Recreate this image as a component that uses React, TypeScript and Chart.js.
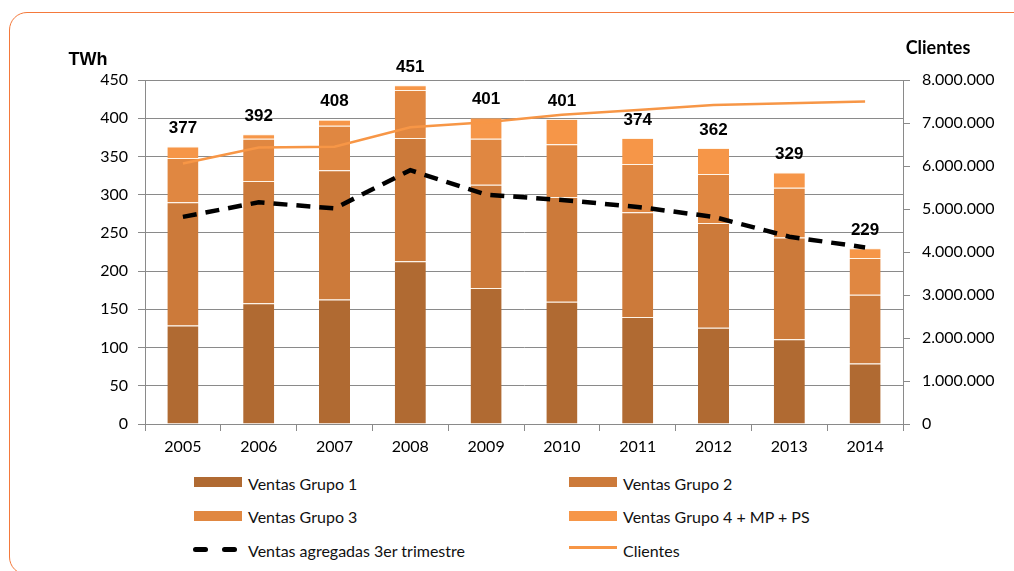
import React, { useEffect, useRef } from "react";
import { Chart, registerables } from "chart.js";

Chart.register(...registerables);

const years = ["2005", "2006", "2007", "2008", "2009", "2010", "2011", "2012", "2013", "2014"];
const grupo1 = [129, 158, 163, 213, 178, 160, 140, 126, 111, 79];
const grupo2 = [161, 160, 169, 161, 135, 137, 137, 137, 133, 90];
const grupo3 = [58, 55, 58, 63, 60, 69, 63, 64, 65, 48];
const grupo4 = [15, 6, 8, 6, 28, 33, 34, 34, 20, 13];
const ventasAgregadas = [271, 290, 282, 332, 300, 293, 284, 271, 245, 231];
const clientes = [6060000, 6430000, 6450000, 6900000, 7020000, 7190000, 7300000, 7420000, 7460000, 7500000];
const totalLabels = [377, 392, 408, 451, 401, 401, 374, 362, 329, 229];

const COLORS = {
  g1: "#B06A32",
  g2: "#CC7A3A",
  g3: "#E08741",
  g4: "#F69648",
  clientes: "#F79646",
  grid: "#8A8A8A",
};

const fmtDots = (v: number) => String(Math.round(v)).replace(/\B(?=(\d{3})+(?!\d))/g, ".");

const labelsPlugin = {
  id: "topLabels",
  afterDatasetsDraw(chart: any) {
    const ctx = chart.ctx;
    const meta = chart.getDatasetMeta(3);
    ctx.save();
    ctx.font = "bold 17px 'Liberation Sans', Arial, sans-serif";
    ctx.fillStyle = "#000";
    ctx.textAlign = "center";
    ctx.textBaseline = "middle";
    meta.data.forEach((el: any, i: number) => {
      ctx.fillText(String(totalLabels[i]), el.x, el.y - 18);
    });
    // axis titles
    ctx.font = "bold 18px 'Liberation Sans', Arial, sans-serif";
    ctx.fillText("TWh", 88, 60);
    ctx.font = "bold 18px Lato, sans-serif";
    ctx.fillText("Clientes", 938, 48);
    ctx.restore();
  },
};

const barBase = {
  type: "bar" as const,
  yAxisID: "y",
  stack: "ventas",
  barPercentage: 0.41,
  categoryPercentage: 1,
  borderColor: "rgba(255,225,190,0.35)",
  borderWidth: { top: 1, left: 0, right: 0, bottom: 0 },
  borderSkipped: "start",
  order: 2,
};

export default function App() {
  const ref = useRef<HTMLCanvasElement>(null);

  useEffect(() => {
    if (!ref.current) return;
    const chart = new Chart(ref.current, {
      type: "bar",
      data: {
        labels: years,
        datasets: [
          { ...barBase, label: "Ventas Grupo 1", data: grupo1, backgroundColor: COLORS.g1 },
          { ...barBase, label: "Ventas Grupo 2", data: grupo2, backgroundColor: COLORS.g2 },
          { ...barBase, label: "Ventas Grupo 3", data: grupo3, backgroundColor: COLORS.g3 },
          { ...barBase, label: "Ventas Grupo 4 + MP + PS", data: grupo4, backgroundColor: COLORS.g4 },
          {
            type: "line",
            label: "Ventas agregadas 3er trimestre",
            data: ventasAgregadas,
            yAxisID: "y",
            stack: "dash",
            borderColor: "#000",
            borderWidth: 4.5,
            borderDash: [14, 9],
            pointRadius: 0,
            tension: 0,
            fill: false,
            order: 0,
          },
          {
            type: "line",
            label: "Clientes",
            data: clientes,
            yAxisID: "y1",
            borderColor: COLORS.clientes,
            borderWidth: 2.5,
            pointRadius: 0,
            tension: 0,
            fill: false,
            order: 1,
          },
        ] as any,
      },
      options: {
        responsive: false,
        animation: false,
        devicePixelRatio: 1,
        layout: { padding: { top: 80, left: 0, right: 0, bottom: 0 } },
        plugins: { legend: { display: false }, tooltip: { enabled: false } },
        scales: {
          x: {
            stacked: true,
            offset: true,
            grid: { offset: true, drawOnChartArea: false, drawTicks: true, tickLength: 7, color: COLORS.grid },
            border: { color: COLORS.grid, width: 1 },
            ticks: { color: "#000", font: { family: "Lato", size: 16 }, padding: 6, maxRotation: 0 },
            afterFit: (s: any) => { s.height = 36; },
          },
          y: {
            stacked: true,
            position: "left",
            min: 0,
            max: 450,
            ticks: { stepSize: 50, color: "#000", font: { family: "Lato", size: 16 }, padding: 10 },
            grid: { color: COLORS.grid, tickLength: 7 },
            border: { color: COLORS.grid, width: 1 },
            afterFit: (s: any) => { s.width = 145; },
          },
          y1: {
            position: "right",
            min: 0,
            max: 8000000,
            ticks: {
              stepSize: 1000000,
              color: "#000",
              font: { family: "Lato", size: 16 },
              padding: 12,
              callback: (v: any) => fmtDots(Number(v)),
            },
            grid: { drawOnChartArea: false, tickLength: 7, color: COLORS.grid },
            border: { color: COLORS.grid, width: 1 },
            afterFit: (s: any) => { s.width = 111; },
          },
        },
      } as any,
      plugins: [labelsPlugin],
    });
    return () => chart.destroy();
  }, []);

  const textStyle = (left: number, cy: number): React.CSSProperties => ({
    position: "absolute",
    left,
    top: cy - 10,
    lineHeight: "20px",
    fontFamily: "Lato, sans-serif",
    fontSize: 16,
    color: "#111",
    whiteSpace: "nowrap",
  });
  const box = (left: number, cy: number, color: string): React.CSSProperties => ({
    position: "absolute",
    left,
    top: cy - 5,
    width: 48,
    height: 10,
    background: color,
  });

  return (
    <div style={{ position: "absolute", left: 0, top: 0, width: 1014, height: 571, overflow: "hidden", background: "#fff" }}>
      <div
        style={{
          position: "absolute",
          left: 9,
          top: 12,
          width: 1030,
          height: 563,
          border: "1.5px solid #F4793B",
          borderRadius: 18,
          boxSizing: "border-box",
        }}
      />
      <canvas ref={ref} width={1014} height={460} style={{ position: "absolute", left: 0, top: 0, display: "block" }} />
      <div style={box(194, 482, COLORS.g1)} />
      <div style={textStyle(248, 484)}>Ventas Grupo 1</div>
      <div style={box(569, 482, COLORS.g2)} />
      <div style={textStyle(623, 484)}>Ventas Grupo 2</div>
      <div style={box(194, 515.5, COLORS.g3)} />
      <div style={textStyle(248, 517)}>Ventas Grupo 3</div>
      <div style={box(569, 515.5, COLORS.g4)} />
      <div style={textStyle(623, 517)}>Ventas Grupo 4 + MP + PS</div>
      <div style={{ position: "absolute", left: 193, top: 546.5, width: 15, height: 5, borderRadius: 2.5, background: "#000" }} />
      <div style={{ position: "absolute", left: 222, top: 546.5, width: 15, height: 5, borderRadius: 2.5, background: "#000" }} />
      <div style={textStyle(248, 551)}>Ventas agregadas 3er trimestre</div>
      <div style={{ position: "absolute", left: 569, top: 546, width: 48, height: 3, background: COLORS.clientes }} />
      <div style={textStyle(623, 551)}>Clientes</div>
    </div>
  );
}
